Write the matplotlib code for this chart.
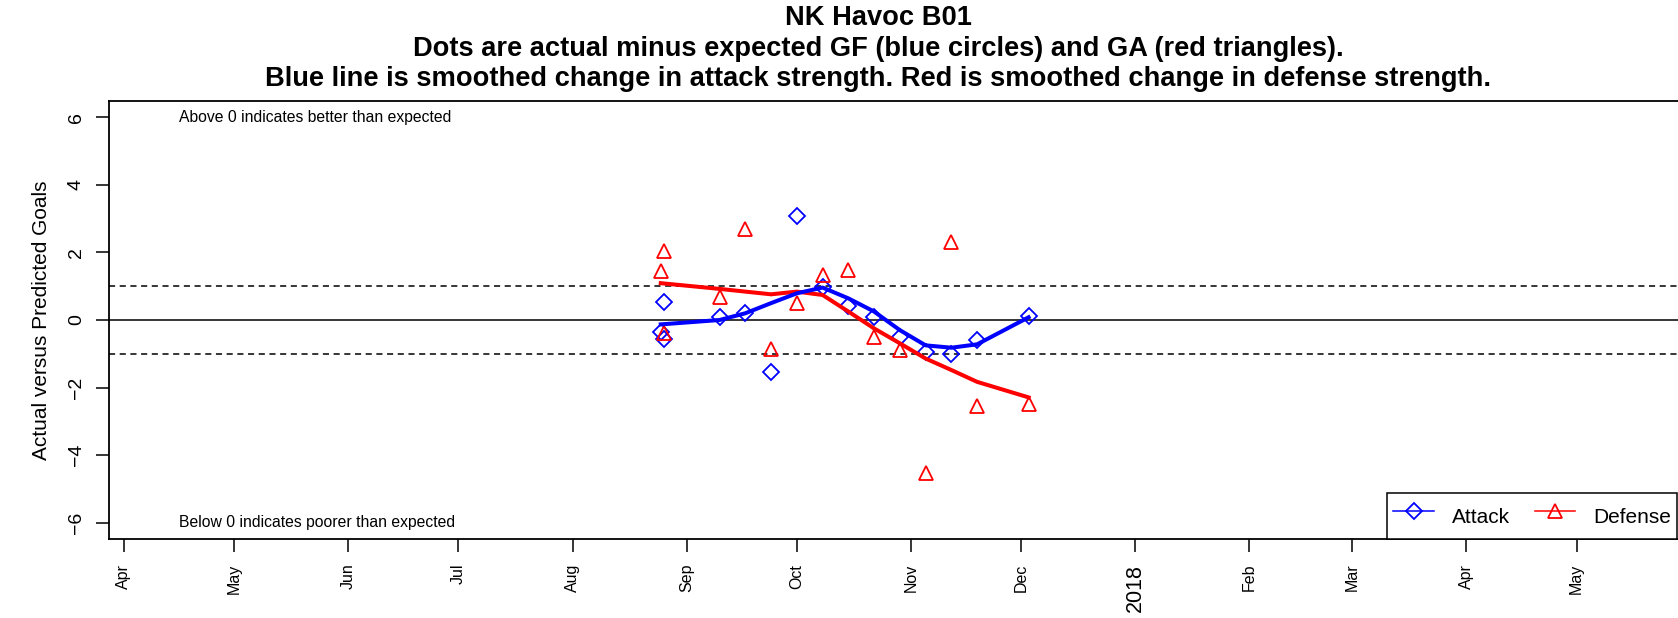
import matplotlib
matplotlib.use("Agg")
import matplotlib.pyplot as plt
import matplotlib.dates as mdates
from matplotlib.lines import Line2D
import numpy as np
import datetime as dt

plt.rcParams['font.family'] = ['Liberation Sans', 'DejaVu Sans']

# ---- data ----
game_dates = ["2017-08-25", "2017-08-26", "2017-08-26", "2017-09-10", "2017-09-17",
              "2017-09-24", "2017-10-01", "2017-10-08", "2017-10-15", "2017-10-22",
              "2017-10-29", "2017-11-05", "2017-11-12", "2017-11-19", "2017-12-03"]
attack_resid = [-0.35, 0.53, -0.56, 0.08, 0.22, -1.53, 3.09, 0.99, 0.40, 0.10,
                -0.51, -0.94, -1.02, -0.59, 0.12]
defense_resid = [1.46, 2.05, -0.38, 0.69, 2.69, -0.86, 0.49, 1.32, 1.48, -0.49,
                 -0.89, -4.52, 2.32, -2.54, -2.49]

smooth_dates = ["2017-08-25", "2017-09-10", "2017-09-17", "2017-09-24", "2017-10-01",
                "2017-10-08", "2017-10-15", "2017-10-22", "2017-10-29", "2017-11-05",
                "2017-11-12", "2017-11-19", "2017-12-03"]
attack_smooth = [-0.13, 0.0, 0.2, 0.5, 0.79, 0.96, 0.64, 0.25, -0.30, -0.75, -0.82, -0.72, 0.08]
defense_smooth = [1.09, 0.92, 0.84, 0.76, 0.84, 0.74, 0.25, -0.25, -0.69, -1.14, -1.48, -1.83, -2.29]

tick_months = ["2017-04-01", "2017-05-01", "2017-06-01", "2017-07-01", "2017-08-01",
               "2017-09-01", "2017-10-01", "2017-11-01", "2017-12-01", "2018-01-01",
               "2018-02-01", "2018-03-01", "2018-04-01", "2018-05-01"]
tick_labels = ["Apr", "May", "Jun", "Jul", "Aug", "Sep", "Oct", "Nov", "Dec", "2018",
               "Feb", "Mar", "Apr", "May"]

title_lines = ["NK Havoc B01",
               "Dots are actual minus expected GF (blue circles) and GA (red triangles).",
               "Blue line is smoothed change in attack strength. Red is smoothed change in defense strength."]

def d(s):
    return mdates.date2num(dt.datetime.strptime(s, "%Y-%m-%d"))

gx = [d(s) for s in game_dates]
sx = [d(s) for s in smooth_dates]
tx = [d(s) for s in tick_months]

W, H = 1678, 618
fig = plt.figure(figsize=(W / 100, H / 100), dpi=100)
left_px, right_px, top_px, bot_px = 109, 1700, 101, 539
ax = fig.add_axes([left_px / W, (H - bot_px) / H, (right_px - left_px) / W, (bot_px - top_px) / H])

px_per_day = 3.678
x0 = d("2017-04-01") - (123.8 - left_px) / px_per_day
ax.set_xlim(x0, x0 + (right_px - left_px) / px_per_day)
ax.set_ylim(-6.48, 6.48)

# reference lines
ax.axhline(0, color='black', lw=1.1, zorder=1)
ax.axhline(1, color='black', lw=1.1, ls=(0, (4, 3)), zorder=1)
ax.axhline(-1, color='black', lw=1.1, ls=(0, (4, 3)), zorder=1)

# points
ax.plot(gx, attack_resid, ls='none', marker='D', ms=8, mfc='none', mec='blue', mew=1.3, zorder=3)
ax.plot(gx, defense_resid, ls='none', marker='^', ms=10, mfc='none', mec='red', mew=1.3, zorder=3)

# smoothed lines
ax.plot(sx, defense_smooth, color='red', lw=2.9, zorder=4, solid_joinstyle='round')
ax.plot(sx, attack_smooth, color='blue', lw=2.9, zorder=4, solid_joinstyle='round')

# annotations
ax.text(d("2017-04-16"), 6.0, "Above 0 indicates better than expected", fontsize=11.3,
        ha='left', va='center')
ax.text(d("2017-04-16"), -6.0, "Below 0 indicates poorer than expected", fontsize=11.3,
        ha='left', va='center')

# axes styling
for side in ['left', 'top', 'bottom']:
    ax.spines[side].set_linewidth(1.3)
ax.spines['right'].set_visible(False)

ax.set_yticks([-6, -4, -2, 0, 2, 4, 6])
ax.set_yticklabels(["\u22126", "\u22124", "\u22122", "0", "2", "4", "6"], rotation=90, va='center')
ax.tick_params(axis='y', direction='out', length=9.4, width=1.1, labelsize=14, pad=8)
ax.set_ylabel("Actual versus Predicted Goals", fontsize=15, labelpad=12)

ax.set_xticks(tx)
ax.set_xticklabels(tick_labels, rotation=90, va='top', ha='center')
ax.tick_params(axis='x', direction='out', length=9.4, width=1.1, labelsize=11.5, pad=8.4)
for lab, txt in zip(ax.get_xticklabels(), tick_labels):
    if txt == "2018":
        lab.set_fontsize(15.5)

# titles
title_y = [18.2, 49.2, 79.2]
for t, yy in zip(title_lines, title_y):
    fig.text(878 / W, 1 - yy / H, t, fontsize=19.6, fontweight='bold', ha='center', va='center')

# legend
handles = [Line2D([], [], color='blue', lw=1.1, marker='D', ms=8, mfc='none', mec='blue', mew=1.3),
           Line2D([], [], color='red', lw=1.1, marker='^', ms=10, mfc='none', mec='red', mew=1.3)]
leg = ax.legend(handles, ["Attack", "Defense"], ncol=2, loc='lower left',
                bbox_to_anchor=(1387 / W, (H - bot_px) / H), bbox_transform=fig.transFigure,
                fontsize=15, handlelength=1.95, handletextpad=0.85, columnspacing=1.2,
                handleheight=2.1, borderpad=0.3, borderaxespad=0, fancybox=False,
                framealpha=1, edgecolor='black')
leg.get_frame().set_linewidth(1.1)

fig.savefig("out.png", dpi=100)
